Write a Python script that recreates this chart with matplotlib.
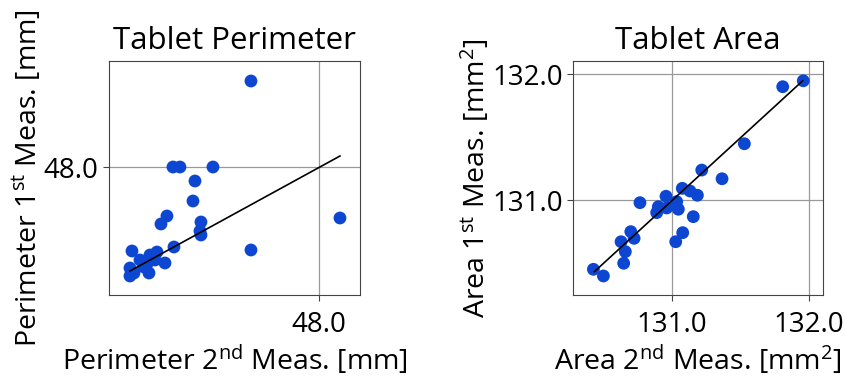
import numpy as np
import matplotlib
matplotlib.use("Agg")
import matplotlib.pyplot as plt

plt.rcParams["font.family"] = ["Open Sans", "DejaVu Sans"]
plt.rcParams["mathtext.fontset"] = "custom"
plt.rcParams["mathtext.rm"] = "Open Sans"
plt.rcParams["mathtext.it"] = "Open Sans:italic"

# Tablet perimeter [mm]: 2nd measurement (x) vs 1st measurement (y)
perim_2nd = [47.932, 47.854, 47.861, 47.894, 47.876, 47.874, 47.848, 47.842,
             47.882, 47.881, 47.882, 48.021, 47.932, 47.855, 47.813, 47.831,
             47.838, 47.821, 47.836, 47.846, 47.811, 47.828, 47.815, 47.811,
             47.830, 47.825]
perim_1st = [48.086, 48.000, 48.000, 48.000, 47.986, 47.966, 47.951, 47.943,
             47.945, 47.936, 47.932, 47.949, 47.917, 47.920, 47.916, 47.912,
             47.915, 47.907, 47.907, 47.904, 47.899, 47.903, 47.894, 47.891,
             47.894, 47.900]
perim_fit_x = [47.811, 48.021]
perim_fit_y = [47.896, 48.011]

# Tablet area [mm^2]
area_2nd = [131.958, 131.808, 131.528, 131.217, 131.365, 131.075, 131.131,
            131.185, 130.956, 130.766, 130.900, 130.961, 131.034, 131.046,
            130.888, 131.155, 131.078, 131.027, 130.699, 130.723, 130.628,
            130.659, 130.647, 130.426, 130.499]
area_1st = [131.949, 131.902, 131.449, 131.240, 131.171, 131.095, 131.074,
            131.040, 131.032, 130.981, 130.949, 130.939, 130.989, 130.929,
            130.902, 130.870, 130.743, 130.671, 130.751, 130.698, 130.671,
            130.592, 130.500, 130.452, 130.399]
area_fit_x = [130.433, 131.954]
area_fit_y = [130.433, 131.949]

panels = [
    {
        "title": "Tablet Perimeter",
        "x": perim_2nd, "y": perim_1st, "fx": perim_fit_x, "fy": perim_fit_y,
        "xlabel": r"Perimeter 2$^{\mathrm{nd}}$ Meas. [mm]",
        "ylabel": r"Perimeter 1$^{\mathrm{st}}$ Meas. [mm]",
        "xticks": [48.0], "yticks": [48.0],
        "xlim": (47.790, 48.041), "ylim": (47.872, 48.106),
        "rect": [0.1288, 0.2196, 0.2967, 0.619],
    },
    {
        "title": "Tablet Area",
        "x": area_2nd, "y": area_1st, "fx": area_fit_x, "fy": area_fit_y,
        "xlabel": r"Area 2$^{\mathrm{nd}}$ Meas. [mm$^{2}$]",
        "ylabel": r"Area 1$^{\mathrm{st}}$ Meas. [mm$^{2}$]",
        "xticks": [131.0, 132.0], "yticks": [131.0, 132.0],
        "xlim": (130.277, 132.102), "ylim": (130.248, 132.106),
        "rect": [0.6773, 0.2196, 0.2955, 0.619],
    },
]

fig = plt.figure(figsize=(8.46, 3.78), dpi=100)

for p in panels:
    ax = fig.add_axes(p["rect"])
    ax.grid(True, color="#999999", linewidth=0.9, zorder=0)
    ax.scatter(p["x"], p["y"], s=85, color="#0d47d1", edgecolors="none",
               zorder=3)
    ax.plot(p["fx"], p["fy"], color="black", linewidth=1.2, zorder=4)
    ax.set_xlim(*p["xlim"])
    ax.set_ylim(*p["ylim"])
    ax.set_xticks(p["xticks"])
    ax.set_yticks(p["yticks"])
    ax.set_xticklabels([f"{t:.1f}" for t in p["xticks"]])
    ax.set_yticklabels([f"{t:.1f}" for t in p["yticks"]])
    ax.tick_params(labelsize=20, length=4, color="#444444")
    ax.tick_params(axis="x", pad=7.5)
    ax.set_title(p["title"], fontsize=22.5, pad=9)
    ax.set_xlabel(p["xlabel"], fontsize=20.5, labelpad=2.5)
    ax.set_ylabel(p["ylabel"], fontsize=20.5, labelpad=0)
    for s in ax.spines.values():
        s.set_color("#444444")

fig.savefig("out.png", dpi=100)
